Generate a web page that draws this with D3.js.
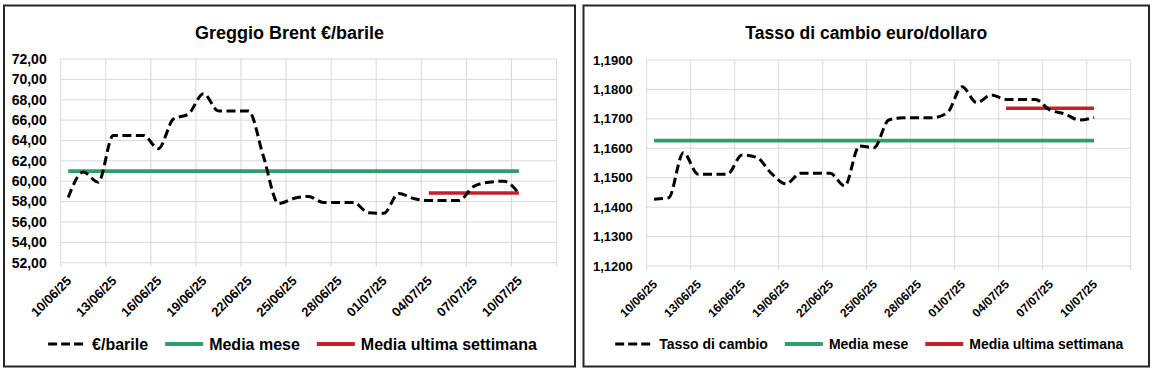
<!DOCTYPE html>
<html>
<head>
<meta charset="utf-8">
<script src="https://cdn.jsdelivr.net/npm/d3@7"></script>
<style>
  body { margin: 0; background: #fff; }
  text { font-family: "Liberation Sans", Arial, sans-serif; font-weight: bold; fill: #000; }
</style>
</head>
<body>
<div id="my_dataviz"></div>
<script>
const dates = ["10/06/25","11/06/25","12/06/25","13/06/25","14/06/25","15/06/25","16/06/25","17/06/25",
  "18/06/25","19/06/25","20/06/25","21/06/25","22/06/25","23/06/25","24/06/25","25/06/25","26/06/25",
  "27/06/25","28/06/25","29/06/25","30/06/25","01/07/25","02/07/25","03/07/25","04/07/25","05/07/25",
  "06/07/25","07/07/25","08/07/25","09/07/25","10/07/25"];
const tickLabels = ["10/06/25","13/06/25","16/06/25","19/06/25","22/06/25","25/06/25","28/06/25",
  "01/07/25","04/07/25","07/07/25","10/07/25"];

const brent = [58.4, 60.9, 59.9, 64.5, 64.5, 64.5, 63.2, 66.1, 66.6, 68.6, 66.9, 66.9, 66.9, 62.4, 57.8,
  58.3, 58.5, 57.9, 57.9, 57.9, 56.9, 56.85, 58.8, 58.3, 58.1, 58.1, 58.1, 59.5, 59.9, 60.0, 58.8];
const brentMese = 61.0;
const brentSettimana = 58.85;
const brentTicks = [52, 54, 56, 58, 60, 62, 64, 66, 68, 70, 72];

const cambio = [1.1427, 1.1432, 1.1585, 1.1512, 1.1512, 1.1512, 1.1577, 1.1569, 1.1515, 1.1479, 1.1515,
  1.1515, 1.1515, 1.1472, 1.1608, 1.1602, 1.1696, 1.1704, 1.1704, 1.1704, 1.1721, 1.1809, 1.1755, 1.1781,
  1.1766, 1.1766, 1.1766, 1.1730, 1.1717, 1.1696, 1.1705];
const cambioMese = 1.1626;
const cambioSettimana = 1.1736;
const cambioTicks = [1.12, 1.13, 1.14, 1.15, 1.16, 1.17, 1.18, 1.19];

const weekStart = "04/07/25";

const svg = d3.select("#my_dataviz")
  .append("svg")
    .attr("width", 1152)
    .attr("height", 372);

function panel(p) {
  const g = svg.append("g");

  g.append("rect")
    .attr("x", p.box[0]).attr("y", 5.5)
    .attr("width", p.box[1] - p.box[0]).attr("height", 361)
    .attr("fill", "#fff")
    .attr("stroke", "#262626")
    .attr("stroke-width", 2);

  const cx = (p.box[0] + p.box[1]) / 2;
  g.append("text")
    .attr("x", cx).attr("y", 39)
    .attr("text-anchor", "middle")
    .style("font-size", p.titleSize + "px")
    .text(p.title);

  // 33 days on the axis, points in the middle of each day
  const x = d3.scaleLinear().domain([0, 33]).range([p.left, p.right]);
  const y = d3.scaleLinear().domain(p.domain).range([p.bottom, p.top]);

  g.append("g").selectAll("line")
    .data(p.ticks)
    .join("line")
      .attr("x1", p.left).attr("x2", p.right)
      .attr("y1", d => y(d)).attr("y2", d => y(d))
      .attr("stroke", "#d9d9d9");

  g.append("g").selectAll("line")
    .data(d3.range(0, 34, 3))
    .join("line")
      .attr("x1", d => x(d)).attr("x2", d => x(d))
      .attr("y1", p.top).attr("y2", p.bottom + 4)
      .attr("stroke", "#d9d9d9");

  g.append("g").selectAll("text")
    .data(p.ticks)
    .join("text")
      .attr("x", p.left - 14)
      .attr("y", d => y(d))
      .attr("dy", "0.35em")
      .attr("text-anchor", "end")
      .style("font-size", p.ySize + "px")
      .text(d => d3.format(p.fmt)(d).replace(".", ","));

  g.append("g").selectAll("text")
    .data(tickLabels)
    .join("text")
      .attr("text-anchor", "end")
      .attr("transform", d => `translate(${x(dates.indexOf(d) + 0.5) + 4}, ${p.bottom + 19}) rotate(-45)`)
      .style("font-size", p.xSize + "px")
      .text(d => d);

  const i0 = 0, i1 = dates.length - 1, iw = dates.indexOf(weekStart);

  g.append("line")
    .attr("x1", x(i0 + 0.5)).attr("x2", x(i1 + 0.5))
    .attr("y1", y(p.mese)).attr("y2", y(p.mese))
    .attr("stroke", "#2e9e6e")
    .attr("stroke-width", 3.8);

  g.append("line")
    .attr("x1", x(iw + 0.5)).attr("x2", x(i1 + 0.5))
    .attr("y1", y(p.settimana)).attr("y2", y(p.settimana))
    .attr("stroke", "#c3202c")
    .attr("stroke-width", 3.6);

  g.append("path")
    .datum(p.values)
    .attr("fill", "none")
    .attr("stroke", "#000")
    .attr("stroke-width", 3)
    .attr("stroke-dasharray", "9,4.5")
    .attr("d", d3.line()
      .curve(d3.curveMonotoneX)
      .x((d, i) => x(i + 0.5))
      .y(d => y(d)));

  // legend, centred in the panel
  const items = [
    { name: p.serie, color: "#000", dash: "9,4" },
    { name: "Media mese", color: "#2e9e6e", dash: null },
    { name: "Media ultima settimana", color: "#c3202c", dash: null }
  ];
  const leg = g.append("g");
  let pos = 0;
  items.forEach(function(it, k) {
    leg.append("line")
      .attr("x1", pos).attr("x2", pos + 38)
      .attr("y1", 344).attr("y2", 344)
      .attr("stroke", it.color)
      .attr("stroke-width", it.dash ? 3.2 : 3.8)
      .attr("stroke-dasharray", it.dash);
    const t = leg.append("text")
      .attr("x", pos + 44).attr("y", 344)
      .attr("dy", "0.35em")
      .style("font-size", p.legSize + "px")
      .text(it.name);
    pos += 44 + t.node().getComputedTextLength() + 17;
  });
  const w = pos - 17;
  leg.attr("transform", `translate(${cx - w / 2 + 3}, 0)`);
}

panel({
  box: [4, 575], left: 60.7, right: 556.5, top: 59, bottom: 262.7,
  domain: [52, 72], ticks: brentTicks, fmt: ".2f",
  values: brent, mese: brentMese, settimana: brentSettimana,
  title: "Greggio Brent €/barile", serie: "€/barile",
  titleSize: 18, ySize: 14, xSize: 13, legSize: 16
});

panel({
  box: [583.5, 1149], left: 646.7, right: 1130.7, top: 60, bottom: 266,
  domain: [1.12, 1.19], ticks: cambioTicks, fmt: ".4f",
  values: cambio, mese: cambioMese, settimana: cambioSettimana,
  title: "Tasso di cambio euro/dollaro", serie: "Tasso di cambio",
  titleSize: 17.5, ySize: 13, xSize: 12, legSize: 14
});
</script>
</body>
</html>
